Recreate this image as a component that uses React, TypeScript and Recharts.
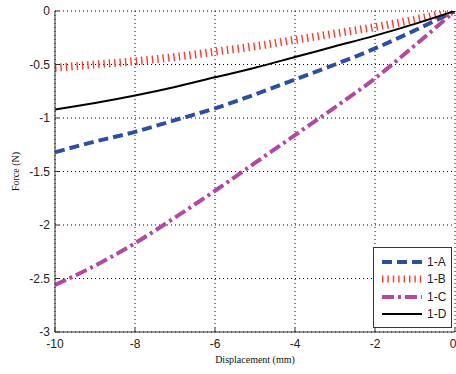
import { CartesianGrid, Label, Line, LineChart, XAxis, YAxis } from "recharts";

const displacement = [-10, -9, -8, -7, -6, -5, -4, -3, -2, -1, 0];
const forceA = [-1.32, -1.22, -1.13, -1.02, -0.91, -0.78, -0.64, -0.5, -0.35, -0.18, 0];
const forceB = [-0.53, -0.5, -0.47, -0.43, -0.38, -0.33, -0.27, -0.21, -0.15, -0.08, 0];
const forceC = [-2.56, -2.38, -2.17, -1.93, -1.68, -1.42, -1.16, -0.9, -0.63, -0.32, 0];
const forceD = [-0.92, -0.86, -0.79, -0.71, -0.62, -0.53, -0.43, -0.33, -0.23, -0.12, 0];

const xTicks = [-10, -8, -6, -4, -2, 0];
const yTicks = [-3, -2.5, -2, -1.5, -1, -0.5, 0];

const series = [
  { key: "a", name: "1-A", color: "#2d4fa3", width: 4, dash: "10 5" },
  { key: "b", name: "1-B", color: "#ff3a2a", width: 8, dash: "1.4 4" },
  { key: "c", name: "1-C", color: "#b2489f", width: 4, dash: "12 4 3 4" },
  { key: "d", name: "1-D", color: "#000000", width: 2, dash: undefined as string | undefined },
];

const data = displacement.map((x, i) => ({
  x,
  a: forceA[i],
  b: forceB[i],
  c: forceC[i],
  d: forceD[i],
}));

const axisColor = "#333";
const tickStyle = { fontSize: 12, fill: "#222", fontFamily: "Liberation Sans, Arial, sans-serif" };

// legend box sits over the lower right corner of the plot, like the original
function LegendBox() {
  return (
    <div
      style={{
        position: "absolute",
        left: 373,
        top: 247,
        width: 79,
        height: 81,
        border: `1px solid ${axisColor}`,
        background: "#fff",
        boxSizing: "border-box",
        paddingTop: 5,
      }}
    >
      {series.map((s) => (
        <div key={s.key} style={{ display: "flex", alignItems: "center", height: 17.5 }}>
          <svg width={50} height={12}>
            <line
              x1={8}
              x2={48}
              y1={6}
              y2={6}
              stroke={s.color}
              strokeWidth={s.key === "b" ? 7 : s.width}
              strokeDasharray={s.dash}
            />
          </svg>
          <span style={{ ...tickStyle, color: "#222", marginLeft: 3 }}>{s.name}</span>
        </div>
      ))}
    </div>
  );
}

export default function App() {
  return (
    <div style={{ position: "absolute", left: 0, top: 0, width: 456, height: 374, background: "#fff" }}>
      <LineChart width={456} height={374} data={data} margin={{ top: 11, right: 1, left: 0, bottom: 0 }}>
        <CartesianGrid stroke="#000" strokeDasharray="1 3" />
        <XAxis
          dataKey="x"
          type="number"
          domain={[-10, 0]}
          ticks={xTicks}
          height={42}
          tickSize={-4}
          tickMargin={11}
          tick={tickStyle}
          stroke={axisColor}
          allowDataOverflow
        >
          <Label
            value="Displacement (mm)"
            position="insideBottom"
            offset={11}
            style={{ fontSize: 10, fill: "#111", fontFamily: "Liberation Serif, Times New Roman, serif" }}
          />
        </XAxis>
        <XAxis
          xAxisId="top"
          orientation="top"
          type="number"
          domain={[-10, 0]}
          ticks={xTicks}
          height={0}
          tickSize={-4}
          tick={false}
          stroke={axisColor}
        />
        <YAxis
          type="number"
          domain={[-3, 0]}
          ticks={yTicks}
          width={55}
          tickSize={-4}
          tickMargin={9}
          tick={tickStyle}
          stroke={axisColor}
          allowDataOverflow
        >
          <Label
            value="Force (N)"
            angle={-90}
            position="insideLeft"
            offset={15}
            style={{ fontSize: 10, fill: "#111", fontFamily: "Liberation Serif, Times New Roman, serif", textAnchor: "middle" }}
          />
        </YAxis>
        <YAxis
          yAxisId="right"
          orientation="right"
          type="number"
          domain={[-3, 0]}
          ticks={yTicks}
          width={0}
          tickSize={-4}
          tick={false}
          stroke={axisColor}
        />
        {series.map((s) => (
          <Line
            key={s.key}
            dataKey={s.key}
            name={s.name}
            type="monotone"
            stroke={s.color}
            strokeWidth={s.width}
            strokeDasharray={s.dash}
            dot={false}
            activeDot={false}
            isAnimationActive={false}
          />
        ))}
      </LineChart>
      <LegendBox />
    </div>
  );
}
